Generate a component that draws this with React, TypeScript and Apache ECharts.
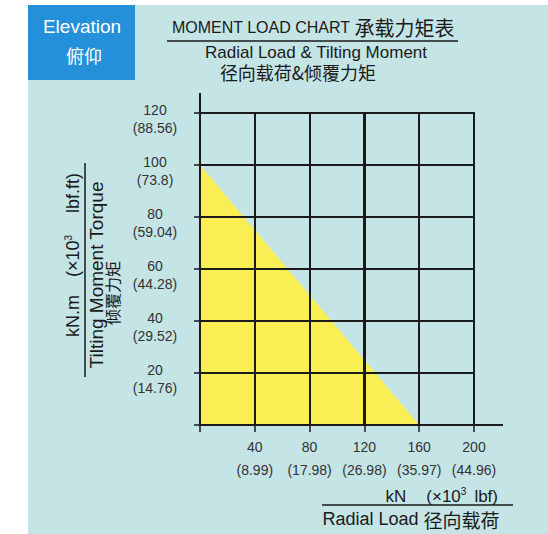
import React, { useEffect, useRef } from 'react';
import * as echarts from 'echarts';

// Radial load axis (kN) and its imperial equivalent (x10^3 lbf)
const radialLoadKN = [0, 40, 80, 120, 160, 200];
const radialLoadLbf = ['', '(8.99)', '(17.98)', '(26.98)', '(35.97)', '(44.96)'];
// Tilting moment axis (kN.m) and its imperial equivalent (x10^3 lbf.ft)
const momentKNm = [0, 20, 40, 60, 80, 100, 120];
const momentLbfFt = ['', '(14.76)', '(29.52)', '(44.28)', '(59.04)', '(73.8)', '(88.56)'];
// Capacity limit line (load, moment)
const capacityLoad = [0, 160];
const capacityMoment = [100, 0];

const LATIN = "'Liberation Sans', 'Noto Sans CJK SC', sans-serif";
const CJK = "'Noto Sans CJK SC', sans-serif";
const PANEL = '#c4e4e6';
const INK = '#1a1a1a';
const YELLOW = '#f9ef55';

export default function App() {
  const ref = useRef<HTMLDivElement>(null);
  useEffect(() => {
    if (!ref.current) return;
    const chart = echarts.init(ref.current, null, { renderer: 'svg' });
    const areaData = capacityLoad.map((x, i) => [x, capacityMoment[i]]);
    const xMin = radialLoadKN[0];
    const xMax = radialLoadKN[radialLoadKN.length - 1];
    const yMin = momentKNm[0];
    const yMax = momentKNm[momentKNm.length - 1];

    // Custom series: the yellow allowable region first, then the grid over it.
    const renderItem = (params: any, api: any) => {
      const corner = [capacityLoad[0], capacityMoment[capacityMoment.length - 1]];
      const pts = [...areaData, corner].map((p) => api.coord(p));
      const children: any[] = [
        { type: 'polygon', z2: 0, shape: { points: pts }, style: { fill: YELLOW } },
      ];
      radialLoadKN.forEach((v) => {
        const a = api.coord([v, yMin]);
        const b = api.coord([v, yMax]);
        const x = Math.round(a[0]);
        children.push({
          type: 'line', z2: 10,
          shape: { x1: x, y1: a[1] + 1, x2: x, y2: b[1] - 1 },
          style: { stroke: INK, lineWidth: 2 },
        });
      });
      momentKNm.forEach((v) => {
        const a = api.coord([xMin, v]);
        const b = api.coord([xMax, v]);
        const y = Math.round(a[1]);
        children.push({
          type: 'line', z2: 10,
          shape: { x1: a[0] - 1, y1: y, x2: b[0] + 1, y2: y },
          style: { stroke: INK, lineWidth: 2 },
        });
      });
      return { type: 'group', children };
    };

    const option: any = {
      animation: false,
      backgroundColor: '#ffffff',
      grid: { left: 200, top: 113, right: 74, bottom: 109, show: false },
      xAxis: {
        type: 'value',
        min: 0,
        max: 200,
        interval: 40,
        z: 10,
        axisLine: {
          show: true,
          lineStyle: { color: INK, width: 2 },
          symbol: ['none', 'rect'],
          symbolSize: [2, 58],
        },
        axisTick: { show: true, length: 7, lineStyle: { color: INK, width: 1.5 } },
        splitLine: { show: true, lineStyle: { color: INK, width: 2 } },
        axisLabel: {
          margin: 10,
          color: '#333',
          fontFamily: LATIN,
          fontSize: 14,
          lineHeight: 23,
          verticalAlign: 'top',
          formatter: (v: number) => {
            const i = radialLoadKN.indexOf(v);
            if (i <= 0) return '';
            return `${v}\n${radialLoadLbf[i]}`;
          },
        },
      },
      yAxis: {
        type: 'value',
        min: 0,
        max: 120,
        interval: 20,
        z: 10,
        axisLine: {
          show: true,
          lineStyle: { color: INK, width: 2 },
          symbol: ['none', 'rect'],
          symbolSize: [2, 40],
        },
        axisTick: { show: true, length: 6, lineStyle: { color: INK, width: 1.5 } },
        splitLine: { show: true, lineStyle: { color: INK, width: 2 } },
        axisLabel: {
          margin: 45,
          align: 'center',
          color: '#333',
          fontFamily: LATIN,
          fontSize: 14,
          formatter: (v: number) => {
            const i = momentKNm.indexOf(v);
            if (i <= 0) return '';
            return `{sp| }\n{t|${v}}\n{t|${momentLbfFt[i]}}`;
          },
          rich: {
            sp: { fontFamily: LATIN, fontSize: 8, lineHeight: 12, color: '#333' },
            t: { fontFamily: LATIN, fontSize: 14, lineHeight: 18, color: '#333' },
          },
        },
      },
      series: [
        {
          type: 'custom',
          z: 3,
          silent: true,
          clip: false,
          data: [[capacityLoad[0], capacityMoment[0]]],
          renderItem,
        },
      ],
      graphic: {
        elements: [
          { type: 'rect', z: -100, silent: true, shape: { x: 28, y: 5, width: 520, height: 529 }, style: { fill: PANEL } },
          { type: 'rect', z: -90, silent: true, shape: { x: 28, y: 5, width: 107, height: 75 }, style: { fill: '#2390d9' } },
          {
            type: 'text', x: 82, y: 26, z: 10,
            style: { text: 'Elevation', fill: '#ffffff', font: `19px ${LATIN}`, align: 'center', verticalAlign: 'middle' },
          },
          {
            type: 'text', x: 84, y: 55, z: 10,
            style: { text: '俯仰', fill: '#ffffff', font: `18px ${CJK}`, align: 'center', verticalAlign: 'middle' },
          },
          {
            type: 'text', x: 313, y: 27, z: 10,
            style: {
              text: '{a|MOMENT LOAD CHART }{b|承载力矩表}',
              align: 'center', verticalAlign: 'middle',
              rich: {
                a: { fontFamily: LATIN, fontSize: 16, fill: INK, color: INK },
                b: { fontFamily: CJK, fontSize: 20, fill: INK, color: INK },
              },
            },
          },
          { type: 'line', z: 10, shape: { x1: 167, y1: 41, x2: 458, y2: 41 }, style: { stroke: INK, lineWidth: 1.5 } },
          {
            type: 'text', x: 316, y: 52, z: 10,
            style: { text: 'Radial Load & Tilting Moment', fill: INK, font: `17px ${LATIN}`, align: 'center', verticalAlign: 'middle' },
          },
          {
            type: 'text', x: 298, y: 72, z: 10,
            style: { text: '径向载荷&倾覆力矩', fill: INK, font: `18px ${CJK}`, align: 'center', verticalAlign: 'middle' },
          },
          {
            type: 'text', x: 498, y: 496, z: 10,
            style: {
              text: '{a|kN}{g|(×10}{s|3}{h|lbf)}',
              align: 'right', verticalAlign: 'middle',
              rich: {
                a: { fontFamily: LATIN, fontSize: 17, fill: INK, color: INK },
                g: { fontFamily: LATIN, fontSize: 17, fill: INK, color: INK, padding: [0, 0, 0, 20] },
                s: { fontFamily: LATIN, fontSize: 10, fill: INK, color: INK, padding: [0, 0, 10, 0] },
                h: { fontFamily: LATIN, fontSize: 17, fill: INK, color: INK, padding: [0, 0, 0, 8] },
              },
            },
          },
          { type: 'line', z: 10, shape: { x1: 322, y1: 505, x2: 513, y2: 505 }, style: { stroke: INK, lineWidth: 1.5 } },
          {
            type: 'text', x: 411, y: 519, z: 10,
            style: {
              text: '{a|Radial Load }{b|径向载荷}',
              align: 'center', verticalAlign: 'middle',
              rich: {
                a: { fontFamily: LATIN, fontSize: 18, fill: INK, color: INK },
                b: { fontFamily: CJK, fontSize: 19, fill: INK, color: INK },
              },
            },
          },
          {
            type: 'text', x: 73, y: 255, z: 10, rotation: Math.PI / 2,
            style: {
              text: '{a|kN.m}{g|(×10}{s|3}{h|lbf.ft)}',
              align: 'center', verticalAlign: 'middle',
              rich: {
                a: { fontFamily: LATIN, fontSize: 18, fill: INK, color: INK },
                g: { fontFamily: LATIN, fontSize: 18, fill: INK, color: INK, padding: [0, 0, 0, 18] },
                s: { fontFamily: LATIN, fontSize: 10, fill: INK, color: INK, padding: [0, 0, 10, 0] },
                h: { fontFamily: LATIN, fontSize: 18, fill: INK, color: INK, padding: [0, 0, 0, 22] },
              },
            },
          },
          { type: 'line', z: 10, shape: { x1: 85, y1: 163, x2: 85, y2: 377 }, style: { stroke: INK, lineWidth: 1.5 } },
          {
            type: 'text', x: 96, y: 275, z: 10, rotation: Math.PI / 2,
            style: { text: 'Tilting Moment Torque', fill: INK, font: `19px ${LATIN}`, align: 'center', verticalAlign: 'middle' },
          },
          {
            type: 'text', x: 112, y: 293, z: 10, rotation: Math.PI / 2,
            style: { text: '倾覆力矩', fill: INK, font: `16px ${CJK}`, align: 'center', verticalAlign: 'middle' },
          },
        ],
      },
    };
    chart.setOption(option);
    return () => chart.dispose();
  }, []);
  return <div ref={ref} style={{ position: 'fixed', left: 0, top: 0, width: 548, height: 534 }} />;
}
